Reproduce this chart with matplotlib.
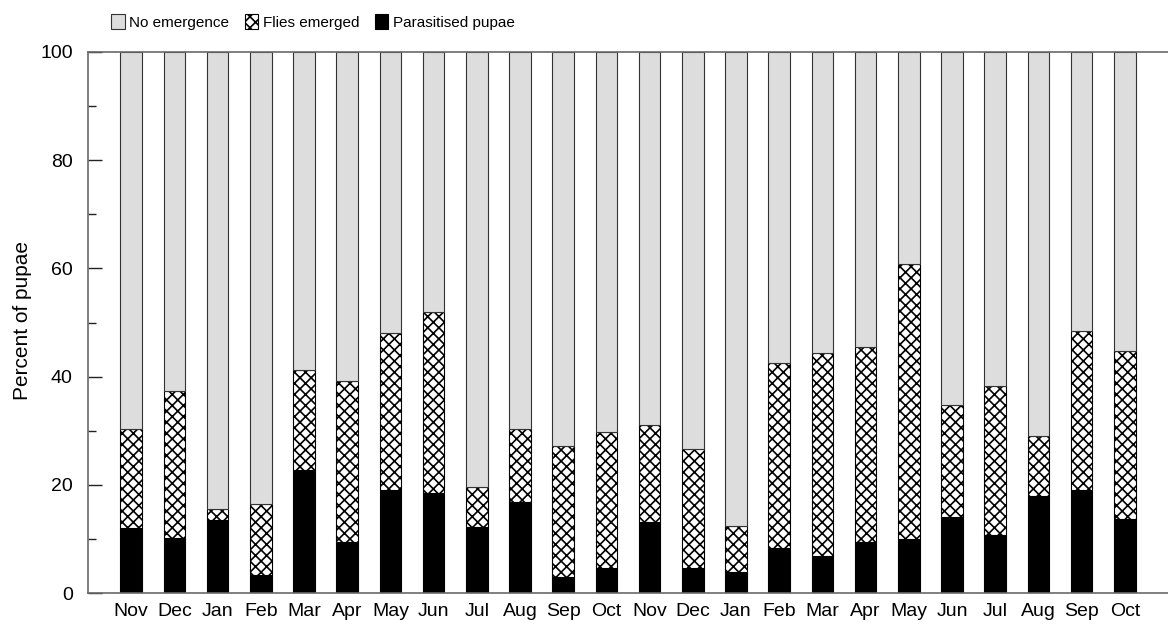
import matplotlib
matplotlib.use("Agg")
import matplotlib.pyplot as plt
import numpy as np

months = ["Nov", "Dec", "Jan", "Feb", "Mar", "Apr", "May", "Jun", "Jul", "Aug", "Sep", "Oct",
          "Nov", "Dec", "Jan", "Feb", "Mar", "Apr", "May", "Jun", "Jul", "Aug", "Sep", "Oct"]
parasitised = [12.0, 10.2, 13.5, 3.3, 22.7, 9.5, 19.0, 18.4, 12.2, 16.8, 2.9, 4.6,
               13.1, 4.6, 3.9, 8.3, 6.9, 9.4, 10.0, 14.0, 10.8, 17.9, 19.0, 13.7]
flies_emerged = [18.4, 27.2, 2.0, 13.2, 18.5, 29.6, 29.1, 33.5, 7.4, 13.6, 24.2, 25.2,
                 17.9, 22.0, 8.5, 34.3, 37.5, 36.1, 50.9, 20.8, 27.5, 11.2, 29.5, 31.0]
no_emergence = [69.6, 62.6, 84.5, 83.5, 58.8, 60.9, 51.9, 48.1, 80.4, 69.6, 72.9, 70.2,
                69.0, 73.4, 87.6, 57.4, 55.6, 54.5, 39.1, 65.2, 61.7, 70.9, 51.5, 55.3]
yticks = [0, 20, 40, 60, 80, 100]

plt.rcParams['hatch.linewidth'] = 1.2
plt.rcParams['font.family'] = ['Liberation Sans', 'DejaVu Sans']

fig = plt.figure(figsize=(11.68, 6.28), dpi=100)
ax = fig.add_axes([88/1168, 35/628, 1080/1168, 541/628])

x = np.arange(len(months))
w = 0.5
p = np.array(parasitised)
f = np.array(flies_emerged)
n = np.array(no_emergence)

b1 = ax.bar(x, p, w, color='black', edgecolor='black', linewidth=0.8, label='Parasitised pupae')
b2 = ax.bar(x, f, w, bottom=p, color='white', edgecolor='black', hatch='xxx', linewidth=0.8,
            label='Flies emerged')
b3 = ax.bar(x, n, w, bottom=p + f, color='#dddddd', edgecolor='#333333', linewidth=0.8,
            label='No emergence')

ax.set_xlim(-1, 24)
ax.set_ylim(0, 100)
ax.set_xticks(x)
ax.set_xticklabels(months, fontsize=14)
ax.set_yticks(yticks)
ax.set_yticks([10, 30, 50, 70, 90], minor=True)
ax.tick_params(axis='y', which='major', direction='in', length=10, width=1, pad=11, labelsize=14,
               color='#222222')
ax.tick_params(axis='y', which='minor', direction='in', length=5.5, width=1, color='#222222')
ax.tick_params(axis='x', which='both', length=0, pad=7)

ax.spines['right'].set_visible(False)
for s in ['left', 'top', 'bottom']:
    ax.spines[s].set_color('#6a6a6a')
    ax.spines[s].set_linewidth(1.2)

fig.text(23/1168, 1 - 320/628, 'Percent of pupae', rotation=90, ha='center', va='center',
         fontsize=15)

fig.legend(handles=[b3, b2, b1], labels=['No emergence', 'Flies emerged', 'Parasitised pupae'],
           loc='center left', bbox_to_anchor=(111/1168, 1 - 22/628), ncol=3, frameon=False,
           fontsize=11, handlelength=0.9, handleheight=1.15, handletextpad=0.3,
           columnspacing=1.0, borderpad=0, borderaxespad=0)

fig.savefig('out.png', dpi=100)
